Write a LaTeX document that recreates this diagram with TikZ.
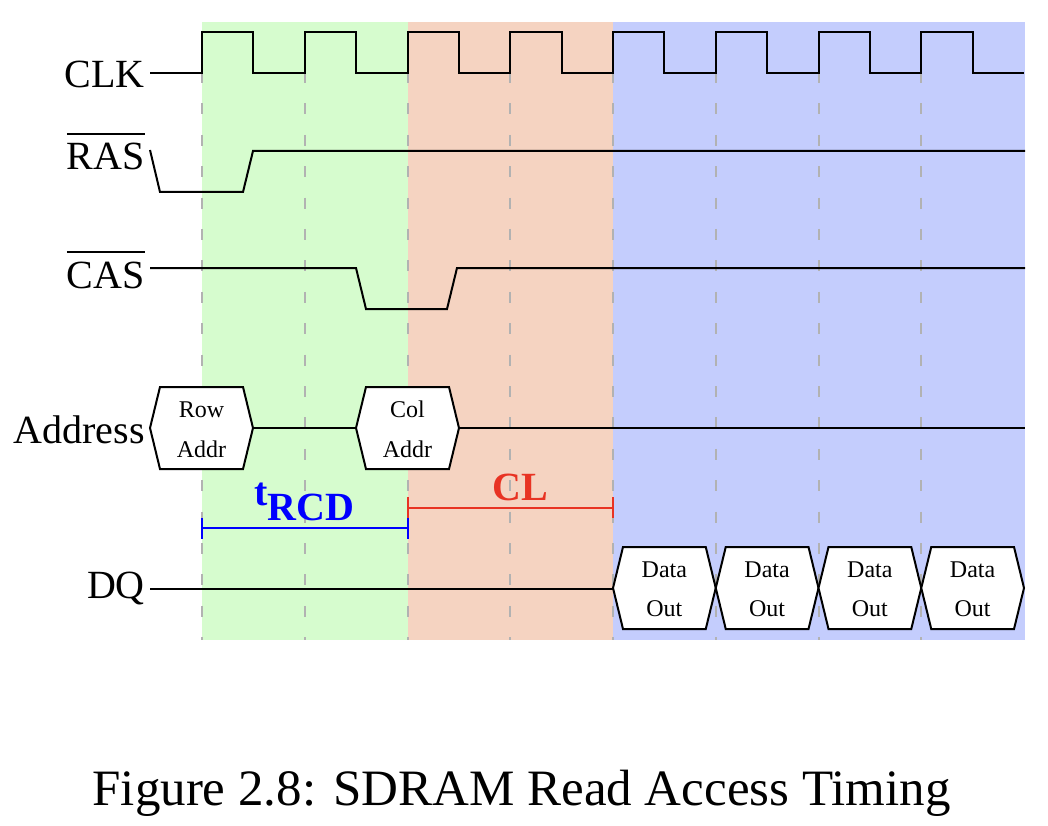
\documentclass[tikz,border=0pt]{standalone}
\usepackage{fontspec}
\setmainfont{Liberation Serif}
\definecolor{bggreen}{RGB}{214,252,206}
\definecolor{bgpink}{RGB}{245,211,193}
\definecolor{bgblue}{RGB}{196,205,253}
\definecolor{dashgray}{RGB}{178,178,178}
\definecolor{clred}{RGB}{232,51,35}
\begin{document}
\begin{tikzpicture}[x=1pt,y=-1pt,
  sig/.style={line width=2pt, line join=miter},
  hexa/.style={line width=2pt, fill=white, line join=miter},
  lbl/.style={font=\fontsize{40}{48}\selectfont, inner sep=0pt},
  small/.style={font=\fontsize{24}{28}\selectfont, inner sep=0pt},
  grid/.style={dashgray, line width=2pt, dash pattern=on 11pt off 20.4pt},
  bar/.style={line width=2pt}
]
\useasboundingbox (0,0) rectangle (1048,826);
% backgrounds
\fill[bggreen] (202,22) rectangle (407.5,640);
\fill[bgpink] (407.5,22) rectangle (613,640);
\fill[bgblue] (613,22) rectangle (1025,640);
% dashed grid
\foreach \k in {0,...,7} {
  \draw[grid] ({202+\k*102.75},72) -- ({202+\k*102.75},640);
}
% labels
\node[lbl, anchor=base east] (clk) at (145,88) {CLK};
\node[lbl, anchor=base east] (ras) at (145,170) {RAS};
\node[lbl, anchor=base east] (cas) at (145,288) {CAS};
\node[lbl, anchor=base east] (addr) at (145,443) {Address};
\node[lbl, anchor=base east] (dq) at (145,598) {DQ};
\draw[line width=2pt] ([yshift=9pt]ras.north west) -- ([yshift=9pt]ras.north east);
\draw[line width=2pt] ([yshift=9pt]cas.north west) -- ([yshift=9pt]cas.north east);
% clock
\draw[sig] (150,73) -- (202,73)
  \foreach \k in {0,...,7} {
    -- ({202+\k*102.75},32) -- ({202+(\k+0.5)*102.75},32)
    -- ({202+(\k+0.5)*102.75},73) -- ({202+(\k+1)*102.75},73)
  };
% RAS
\draw[sig] (150,150) -- (160,192) -- (243,192) -- (253,151) -- (1025,151);
% CAS
\draw[sig] (150,268) -- (356,268) -- (366,309) -- (447,309) -- (457,268) -- (1025,268);
% Address
\draw[hexa] (150,428) -- (160,387) -- (243,387) -- (253,428) -- (243,469) -- (160,469) -- cycle;
\draw[hexa] (356,428) -- (366,387) -- (449,387) -- (459,428) -- (449,469) -- (366,469) -- cycle;
\draw[sig] (253,428) -- (356,428);
\draw[sig] (459,428) -- (1025,428);
\node[small, anchor=base] (row1) at (201.5,417) {Row};
\node[small, anchor=base] (row2) at (201.5,457) {Addr};
\node[small, anchor=base] (col1) at (407.5,417) {Col};
\node[small, anchor=base] (col2) at (407.5,457) {Addr};
% DQ
\draw[sig] (150,589) -- (613,589);
\foreach \k in {0,...,3} {
  \pgfmathsetmacro{\L}{613+\k*102.75}
  \pgfmathsetmacro{\R}{613+(\k+1)*102.75}
  \draw[hexa] (\L,588) -- (\L+10,547) -- (\R-10,547) -- (\R,588) -- (\R-10,629) -- (\L+10,629) -- cycle;
  \node[small, anchor=base] (d\k a) at ({(\L+\R)/2},577) {Data};
  \node[small, anchor=base] (d\k b) at ({(\L+\R)/2},616) {Out};
}
% tRCD
\draw[bar, blue] (202,528) -- (407.5,528);
\draw[bar, blue] (202,518) -- (202,539);
\draw[bar, blue] (407.5,518) -- (407.5,539);
\node[font=\fontsize{40}{48}\selectfont\bfseries, text=blue, inner sep=0pt, anchor=base] (trcd) at (304,505) {t\raisebox{-15pt}{RCD}};
% CL
\draw[bar, clred] (407.5,508) -- (613,508);
\draw[bar, clred] (407.5,497) -- (407.5,518);
\draw[bar, clred] (613,497) -- (613,518);
\node[font=\fontsize{40}{48}\selectfont\bfseries, text=clred, inner sep=0pt, anchor=base] (cl) at (520,500) {CL};
% caption
\node[font=\fontsize{51}{60}\selectfont, inner sep=0pt, anchor=base] (cap) at (521.5,805) {Figure 2.8: SDRAM Read Access Timing};
\end{tikzpicture}
\end{document}
